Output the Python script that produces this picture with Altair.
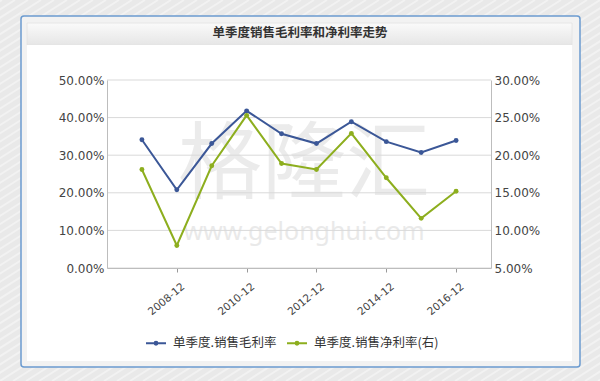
import altair as alt
import pandas as pd

# Quarterly report periods (December quarter of each year)
periods = ["2007-12", "2008-12", "2009-12", "2010-12", "2011-12",
           "2012-12", "2013-12", "2014-12", "2015-12", "2016-12"]
# Single-quarter gross margin (left axis)
gross_margin = [0.341, 0.208, 0.331, 0.418, 0.357, 0.331, 0.389, 0.336, 0.307, 0.339]
# Single-quarter net margin (right axis)
net_margin = [0.181, 0.080, 0.186, 0.253, 0.189, 0.181, 0.229, 0.170, 0.116, 0.152]

series_names = ["单季度.销售毛利率", "单季度.销售净利率(右)"]
series_colors = ["#3b5797", "#8dae1e"]
left_ticks = [0.0, 0.1, 0.2, 0.3, 0.4, 0.5]
right_ticks = [0.05, 0.10, 0.15, 0.20, 0.25, 0.30]
x_tick_years = [2008, 2010, 2012, 2014, 2016]

years = [int(p[:4]) for p in periods]
gross_df = pd.DataFrame({"year": years, "value": gross_margin, "series": series_names[0]})
net_df = pd.DataFrame({"year": years, "value": net_margin, "series": series_names[1]})
grid_df = pd.DataFrame({"value": left_ticks})

W, H = 384, 188
LEFT, TOP = 107, 80
FONT = "DejaVu Sans"
CJK = "Noto Sans CJK SC"

one = alt.Data(values=[{}])

# Diagonal stripes of the page background
stripes = (
    alt.Chart(alt.SequenceGenerator(sequence=alt.SequenceParams(start=0, stop=110, step=1)))
    .transform_calculate(sx=f"-{LEFT} - 650 + datum.data * 13",
                         sy=f"{381 - TOP}",
                         sx2=f"-{LEFT} - 650 + datum.data * 13 + 600",
                         sy2=f"-{TOP}")
    .mark_rule(color="white", strokeWidth=2, opacity=0.4)
    .encode(x=alt.X("sx:Q", scale=None), y=alt.Y("sy:Q", scale=None),
            x2="sx2:Q", y2="sy2:Q")
)

# Framed panel
panel = alt.Chart(one).mark_rect(fill="#f2f2f2", stroke="#6b9bd0", strokeWidth=1.5,
                                 cornerRadius=3).encode(
    x=alt.value(21 - LEFT), x2=alt.value(580 - LEFT),
    y=alt.value(16 - TOP), y2=alt.value(367 - TOP))
title_bar = alt.Chart(one).mark_rect(
    fill=alt.Gradient(gradient="linear", x1=0, y1=0, x2=0, y2=1,
                      stops=[alt.GradientStop(color="#fafafa", offset=0),
                             alt.GradientStop(color="#e6e6e6", offset=1)]),
    stroke="#e2e2e2", strokeWidth=0.8).encode(
    x=alt.value(27 - LEFT), x2=alt.value(572 - LEFT),
    y=alt.value(23 - TOP), y2=alt.value(45 - TOP))
white_area = alt.Chart(one).mark_rect(fill="white").encode(
    x=alt.value(27 - LEFT), x2=alt.value(572 - LEFT),
    y=alt.value(45 - TOP), y2=alt.value(361 - TOP))
title = alt.Chart(one).mark_text(font=CJK, fontSize=12.5, fontWeight="bold",
                                 color="#333333", align="center", baseline="middle").encode(
    x=alt.value(300 - LEFT), y=alt.value(33 - TOP), text=alt.value("单季度销售毛利率和净利率走势"))

# Watermark
wm_big = alt.Chart(one).mark_text(font=CJK, fontSize=84, color="#d8d8d8", opacity=0.5,
                                  align="center", baseline="middle").encode(
    x=alt.value(304 - LEFT), y=alt.value(167 - TOP), text=alt.value("格隆汇"))
wm_small = alt.Chart(one).mark_text(font="Noto Sans", fontSize=25, color="#d8d8d8", opacity=0.55,
                                    align="center", baseline="middle").encode(
    x=alt.value(304 - LEFT), y=alt.value(232 - TOP), text=alt.value("www.gelonghui.com"))

x_enc = alt.X("year:Q", scale=alt.Scale(domain=[2006, 2017], nice=False),
              axis=alt.Axis(values=x_tick_years, labelExpr="datum.value + '-12'",
                            title=None, grid=False, labelAngle=-40, labelAlign="right",
                            labelBaseline="top", labelFont=FONT, labelFontSize=10.5,
                            labelColor="#444444", tickSize=4, tickColor="#999999",
                            domainColor="#bdbdbd", labelPadding=9, labelOffset=3,
                            zindex=1))
color_enc = alt.Color("series:N",
                      scale=alt.Scale(domain=series_names, range=series_colors),
                      legend=alt.Legend(title=None, orient="none", legendX=38, legendY=252,
                                        direction="horizontal", labelFont=CJK,
                                        labelFontSize=12.5, labelColor="#333333",
                                        symbolType="M-1,0H1M0,-0.14A0.14,0.14,0,1,1,0,0.14A0.14,0.14,0,1,1,0,-0.14Z",
                                        symbolSize=400, symbolStrokeWidth=2,
                                        columnPadding=6, labelOffset=6))

left_scale = alt.Scale(domain=[0, 0.5], nice=False, zero=False)
right_scale = alt.Scale(domain=[0.05, 0.30], nice=False, zero=False)
left_axis = alt.Axis(values=left_ticks, format=".2%", title=None, grid=False,
                     ticks=False, labelPadding=3, labelFont=FONT, labelFontSize=12,
                     labelColor="#444444", domainColor="#bdbdbd", zindex=1)
right_axis = alt.Axis(values=right_ticks, format=".2%", title=None, grid=False,
                      orient="right", ticks=False, labelPadding=3, labelFont=FONT,
                      labelFontSize=12, labelColor="#444444", domainColor="#bdbdbd",
                      zindex=1)

# Horizontal gridlines at the left-axis ticks
grid = alt.Chart(grid_df).mark_rule(color="#d9d9d9", strokeWidth=1).encode(
    y=alt.Y("value:Q", scale=left_scale, axis=left_axis))

gross = alt.Chart(gross_df).mark_line(
    strokeWidth=2, point=alt.OverlayMarkDef(filled=True, size=24)).encode(
    x=x_enc,
    y=alt.Y("value:Q", scale=left_scale, axis=left_axis),
    color=color_enc)

net = alt.Chart(net_df).mark_line(
    strokeWidth=2, point=alt.OverlayMarkDef(filled=True, size=24)).encode(
    x=x_enc,
    y=alt.Y("value:Q", scale=right_scale, axis=right_axis),
    color=color_enc)

left_layer = alt.layer(grid, gross)

chart = (
    alt.layer(stripes, panel, title_bar, white_area, title, wm_big, wm_small, left_layer, net)
    .resolve_scale(y="independent")
    .properties(width=W, height=H,
                padding={"left": LEFT, "top": TOP, "right": 600 - LEFT - W, "bottom": 381 - TOP - H},
                autosize=alt.AutoSizeParams(type="none"),
                background="#e9e9e9")
    .configure_view(stroke=None)
)

chart.save("out.html", embed_options={"renderer": "svg", "actions": False})
